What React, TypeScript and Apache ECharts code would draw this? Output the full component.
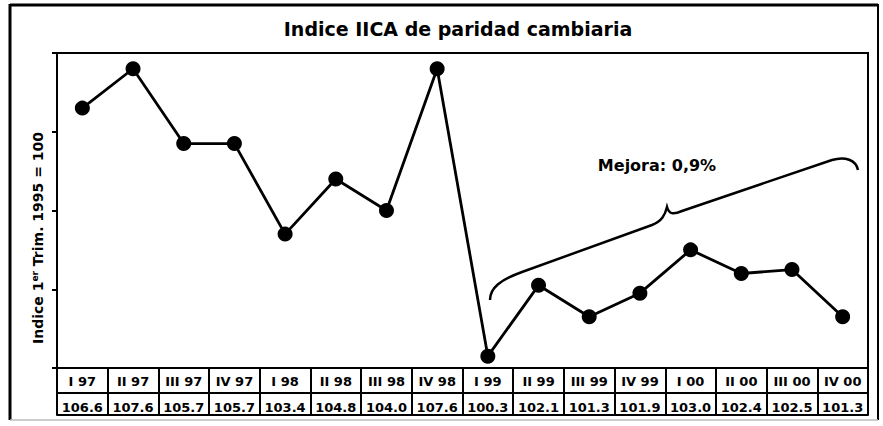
import React, { useEffect, useRef } from "react";
import * as echarts from "echarts";

const categories = ["I 97", "II 97", "III 97", "IV 97", "I 98", "II 98", "III 98", "IV 98", "I 99", "II 99", "III 99", "IV 99", "I 00", "II 00", "III 00", "IV 00"];
const values = [106.6, 107.6, 105.7, 105.7, 103.4, 104.8, 104.0, 107.6, 100.3, 102.1, 101.3, 101.9, 103.0, 102.4, 102.5, 101.3];
const yMin = 100;
const yMax = 108;
const yStep = 2;
const titleText = "Indice IICA de paridad cambiaria";
const noteText = "Mejora: 0,9%";

const bracePath =
  "M490,300 C490,288 500,280 522,272 L652,225 C662,221 665,215 667,207 C669,214 673,215 682,211 L832,160 C845,156 856,160 858,170";

export default function App() {
  const ref = useRef<HTMLDivElement>(null);
  useEffect(() => {
    if (!ref.current) return;
    echarts.graphic.registerShape("brace", echarts.graphic.extendPath(bracePath, {}));
    const chart = echarts.init(ref.current, null, { renderer: "svg" });
    const font = "'DejaVu Sans', 'Liberation Sans', sans-serif";
    const black = "#000";
    chart.setOption({
      animation: false,
      backgroundColor: "#fff",
      textStyle: { fontFamily: font },
      grid: { left: 57, right: 15, top: 53, bottom: 58, show: true, borderColor: black, borderWidth: 2, containLabel: false },
      xAxis: [
        {
          type: "category",
          data: categories,
          boundaryGap: true,
          axisLine: { show: true, lineStyle: { color: black, width: 2 } },
          axisTick: { show: true, length: 47, interval: 0, lineStyle: { color: black, width: 2 } },
          axisLabel: { interval: 0, margin: 7, color: black, fontSize: 13, fontWeight: "bold", fontFamily: font },
          splitLine: { show: false },
        },
        {
          type: "category",
          data: categories,
          position: "bottom",
          offset: 25,
          boundaryGap: true,
          axisLine: { show: true, lineStyle: { color: black, width: 2 } },
          axisTick: { show: false },
          axisLabel: {
            interval: 0,
            margin: 8,
            color: black,
            fontSize: 13,
            fontWeight: "bold",
            fontFamily: font,
            formatter: (_v: string, i: number) => values[i].toFixed(1),
          },
        },
        {
          type: "category",
          data: categories,
          position: "bottom",
          offset: 47,
          axisLine: { show: true, lineStyle: { color: black, width: 2 } },
          axisTick: { show: false },
          axisLabel: { show: false },
        },
      ],
      yAxis: {
        type: "value",
        min: yMin,
        max: yMax,
        interval: yStep,
        axisLine: { show: true, lineStyle: { color: black, width: 2 } },
        axisTick: { show: true, length: 5, lineStyle: { color: black, width: 2 } },
        axisLabel: { show: false },
        splitLine: { show: false },
      },
      series: [
        {
          type: "line",
          data: values,
          xAxisIndex: 0,
          symbol: "circle",
          symbolSize: 15,
          itemStyle: { color: black },
          lineStyle: { color: black, width: 2.8 },
        },
      ],
      graphic: [
        { type: "line", shape: { x1: 10, y1: 5, x2: 878, y2: 5 }, style: { stroke: black, lineWidth: 3 } },
        { type: "line", shape: { x1: 10, y1: 4, x2: 10, y2: 420 }, style: { stroke: black, lineWidth: 3 } },
        { type: "line", shape: { x1: 878, y1: 4, x2: 878, y2: 420 }, style: { stroke: black, lineWidth: 2 } },
        { type: "line", shape: { x1: 10, y1: 420, x2: 878, y2: 420 }, style: { stroke: "#bbb", lineWidth: 1.5 } },
        {
          type: "text",
          x: 458,
          y: 29,
          style: { text: titleText, font: `bold 19px ${font}`, fill: black, align: "center", verticalAlign: "middle" },
        },
        {
          type: "text",
          x: 38,
          y: 238,
          rotation: Math.PI / 2,
          style: {
            text: "{a|Indice 1}{s|er}{a| Trim. 1995 = 100}",
            align: "center",
            verticalAlign: "middle",
            rich: {
              a: { fontSize: 14, fontWeight: "bold", fontFamily: font, fill: black, color: black },
              s: { fontSize: 9, fontWeight: "bold", fontFamily: font, fill: black, color: black, verticalAlign: "top", padding: [0, 0, 6, 0] },
            },
          },
        },
        {
          type: "brace",
          style: { stroke: black, lineWidth: 2.5, fill: "none" },
        },
        {
          type: "text",
          x: 657,
          y: 165,
          style: { text: noteText, font: `bold 16px ${font}`, fill: black, align: "center", verticalAlign: "middle" },
        },
      ],
    });
    return () => chart.dispose();
  }, []);
  return <div ref={ref} style={{ position: "absolute", left: 0, top: 0, width: 883, height: 426, background: "#fff" }} />;
}
